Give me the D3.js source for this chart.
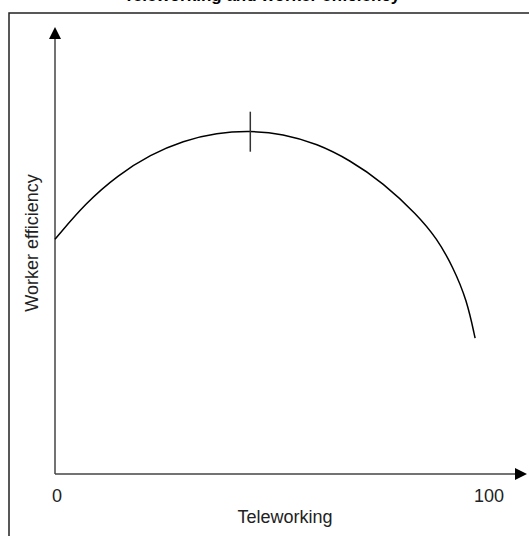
<!DOCTYPE html>
<html>
<head>
<meta charset="utf-8">
<script src="https://cdn.jsdelivr.net/npm/d3@7"></script>
<style>
  body { margin: 0; background: #fff; }
  svg { display: block; font-family: "Liberation Sans", Arial, sans-serif; }
</style>
</head>
<body>
<svg id="canvas" width="529" height="536"></svg>
<script>
// teleworking share (%) vs worker efficiency (arbitrary scale)
const teleworking = [0, 7, 14.5, 22, 29.5, 37.3, 44.9, 52.5, 60.4, 68, 75.6, 83.4, 88, 91.7, 94.9, 96.8]
const efficiency = [54.1, 62.4, 68.9, 73.6, 76.8, 78.6, 79.1, 78.4, 76.1, 72.3, 67.1, 59.8, 54.3, 47.7, 40.1, 31.3]
const peakAt = 45
const xTicks = [0, 100]
const title = 'Teleworking and worker efficiency'

let svg = d3.select('#canvas')

let x = d3.scaleLinear().domain([0, 100]).range([55, 489])
let y = d3.scaleLinear().domain([0, 100]).range([474, 40])

// outer frame
svg.append('rect')
    .attr('x', 9).attr('y', 13)
    .attr('width', 540).attr('height', 540)
    .attr('fill', 'none')
    .attr('stroke', '#222')
    .attr('stroke-width', 1.5)

svg.append('text')
    .attr('x', 262).attr('y', 1)
    .attr('text-anchor', 'middle')
    .style('font-weight', 'bold')
    .style('font-size', '17px')
    .text(title)

let defs = svg.append('defs')
defs.append('marker')
    .attr('id', 'arrow')
    .attr('viewBox', '0 0 10 10')
    .attr('refX', 0).attr('refY', 5)
    .attr('markerUnits', 'userSpaceOnUse')
    .attr('markerWidth', 12).attr('markerHeight', 12)
    .attr('orient', 'auto')
    .append('path')
    .attr('d', 'M0,0L10,5L0,10Z')
    .attr('fill', '#000')

// axes
svg.append('line')
    .attr('x1', x(0)).attr('y1', y(0))
    .attr('x2', x(0)).attr('y2', 39)
    .attr('stroke', '#444').attr('stroke-width', 1.5)
    .attr('marker-end', 'url(#arrow)')
svg.append('line')
    .attr('x1', x(0)).attr('y1', y(0))
    .attr('x2', 515).attr('y2', y(0))
    .attr('stroke', '#444').attr('stroke-width', 1.5)
    .attr('marker-end', 'url(#arrow)')

svg.selectAll('.tick-label')
    .data(xTicks)
    .enter()
    .append('text')
    .attr('class', 'tick-label')
    .attr('x', (d) => d === 0 ? x(d) + 2 : x(d))
    .attr('y', 502)
    .attr('text-anchor', 'middle')
    .style('font-size', '18px')
    .attr('fill', '#222')
    .text((d) => d)

svg.append('text')
    .attr('x', 285).attr('y', 523)
    .attr('text-anchor', 'middle')
    .style('font-size', '18px')
    .attr('fill', '#222')
    .text('Teleworking')

svg.append('text')
    .attr('transform', 'translate(38,243) rotate(-90)')
    .attr('text-anchor', 'middle')
    .style('font-size', '18px')
    .attr('fill', '#222')
    .text('Worker efficiency')

// curve
let line = d3.line()
    .x((d, i) => x(teleworking[i]))
    .y((d) => y(d))
    .curve(d3.curveBasis)

svg.append('path')
    .attr('d', line(efficiency))
    .attr('fill', 'none')
    .attr('stroke', '#000')
    .attr('stroke-width', 1.5)

// optimum marker
let peakIdx = teleworking.indexOf(44.9)
svg.append('line')
    .attr('x1', x(peakAt)).attr('x2', x(peakAt))
    .attr('y1', y(efficiency[peakIdx]) - 19)
    .attr('y2', y(efficiency[peakIdx]) + 21)
    .attr('stroke', '#333').attr('stroke-width', 1.5)
</script>
</body>
</html>
